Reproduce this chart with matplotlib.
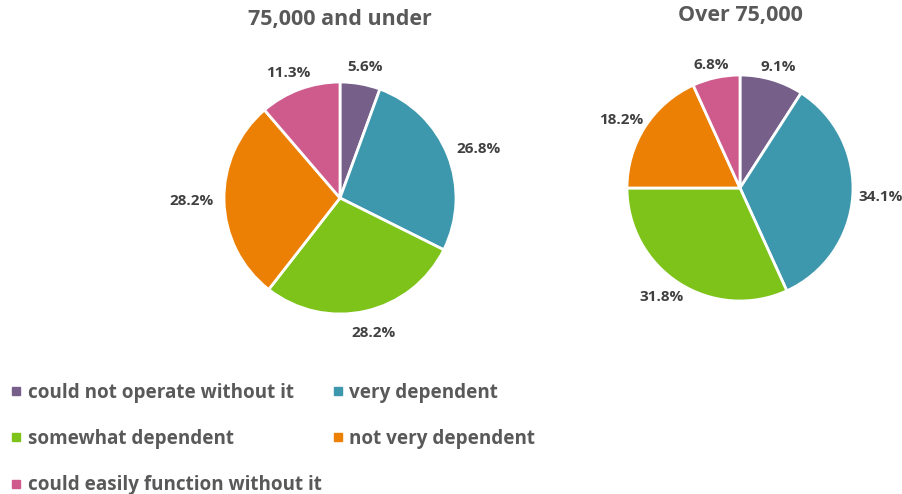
import matplotlib
matplotlib.use('Agg')
import matplotlib.pyplot as plt
from matplotlib.lines import Line2D
import numpy as np

plt.rcParams['font.family'] = ['Open Sans', 'DejaVu Sans']

# Datos
categorias = ['could not operate without it', 'very dependent', 'somewhat dependent',
              'not very dependent', 'could easily function without it']
colores = ['#76608A', '#3D98AE', '#7DC31A', '#EC8004', '#CE5B8C']
bajo_75 = [5.6, 26.8, 28.2, 28.2, 11.3]
sobre_75 = [9.1, 34.1, 31.8, 18.2, 6.8]
titulos = ['75,000 and under', 'Over 75,000']

W, H = 902, 494
fig = plt.figure(figsize=(W / 100, H / 100), dpi=100)
renderer = fig.canvas.get_renderer()

def pastel(cx, cy, r, valores, titulo, ty, gap):
    ax = fig.add_axes([(cx - r) / W, 1 - (cy + r) / H, 2 * r / W, 2 * r / H])
    wedges, textos, pct = ax.pie(valores, colors=colores, startangle=90, counterclock=False,
                                 radius=1, autopct='%.1f%%', pctdistance=1.2,
                                 wedgeprops=dict(edgecolor='white', linewidth=2))
    ax.set_xlim(-1, 1)
    ax.set_ylim(-1, 1)
    ax.set_aspect('equal')
    # etiquetas fuera del pastel, separadas del borde según su tamaño
    for w, t in zip(wedges, pct):
        t.set_fontsize(11)
        t.set_fontweight('bold')
        t.set_color('#404040')
        bb = t.get_window_extent(renderer)
        hw, hh = bb.width / 2 / r, bb.height / 2 / r
        ang = np.deg2rad((w.theta1 + w.theta2) / 2)
        c, s = np.cos(ang), np.sin(ang)
        g = gap + (0.04 if s < -0.5 else 0)
        t.set_position(((1 + g) * c + hw * c, (1 + g) * s + hh * s))
        t.set_ha('center')
        t.set_va('center')
    fig.text(cx / W, 1 - ty / H, titulo, ha='center', va='center',
             fontsize=15.5, fontweight='bold', color='#595959')

pastel(340, 198, 116, bajo_75, titulos[0], 19, 0.09)
pastel(740, 188, 113, sobre_75, titulos[1], 16, 0.05)

# Leyenda por filas
orden = [0, 2, 4, 1, 3]
handles = [Line2D([], [], marker='s', linestyle='none', markersize=6,
                  color=colores[i]) for i in orden]
fig.legend(handles, [categorias[i] for i in orden], ncol=2, frameon=False,
           loc='upper left', bbox_to_anchor=(-0.006, 1 - 366 / H),
           prop=dict(size=13.6, weight='bold'), labelcolor='#595959',
           handlelength=0.5, handletextpad=0.35, labelspacing=1.38, columnspacing=0.6)

plt.savefig('out.png', dpi=100)
